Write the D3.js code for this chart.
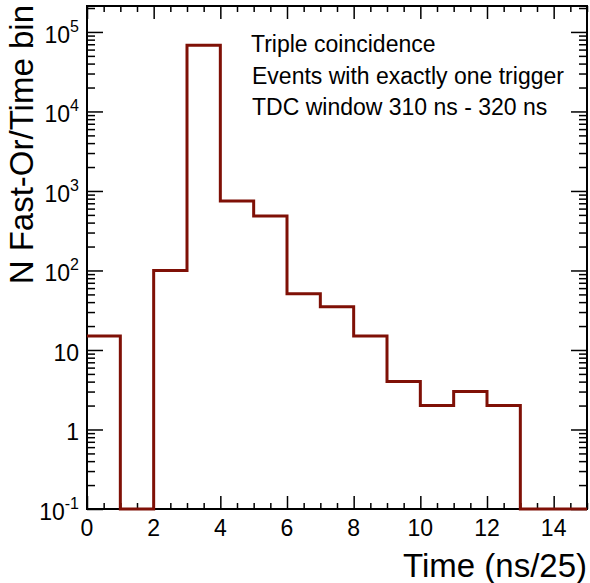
<!DOCTYPE html>
<html>
<head>
<meta charset="utf-8">
<script src="https://cdn.jsdelivr.net/npm/d3@7"></script>
<style>
body { margin: 0; background: #fff; }
text { font-family: "Liberation Sans", Arial, Helvetica, sans-serif; fill: #000; }
</style>
</head>
<body>
<div class="chart"></div>
<script>
// ビンの下端 (Time, ns/25) と中身
var binLow = [0, 1, 2, 3, 4, 5, 6, 7, 8, 9, 10, 11, 12, 13, 14];
var binCounts = [15, 0, 100, 68000, 750, 485, 51, 35, 15, 4, 2, 3, 2, 0, 0];
var binHigh = 15;

// 目盛り
var xTicks = [0, 2, 4, 6, 8, 10, 12, 14];
var yTicks = [0.1, 1, 10, 100, 1000, 10000, 100000];
var yTickBase = ["10", "1", "10", "10", "10", "10", "10"];
var yTickExp = ["-1", "", "", "2", "3", "4", "5"];

var notes = ["Triple coincidence", "Events with exactly one trigger", "TDC window 310 ns - 320 ns"];

var margin = {top: 6, right: 3, bottom: 74, left: 87},
    area = {width: 590 - margin.left - margin.right, height: 583 - margin.top - margin.bottom};

var yMin = 0.1, yMax = 2.12e5;

var x = d3.scaleLinear().domain([0, binHigh]).range([0, area.width]);
var y = d3.scaleLog().domain([yMin, yMax]).range([area.height, 0]);

var svg = d3.select("div.chart")
    .append("svg")
    .attr("width", 590)
    .attr("height", 583)
    .append("g")
    .attr("transform", "translate(" + margin.left + "," + margin.top + ")");

// 副目盛り
var xMinor = d3.range(0, binHigh + 0.01, 0.5).filter(function(d) { return xTicks.indexOf(d) < 0; });
var yMinor = y.ticks().filter(function(d) { return yTicks.indexOf(d) < 0; });

function tickAxis(axis, values, size) {
    return axis.tickValues(values).tickSizeInner(size).tickSizeOuter(0).tickFormat("");
}

var axes = [
    {a: tickAxis(d3.axisBottom(x), xTicks, -13), t: "translate(0," + area.height + ")"},
    {a: tickAxis(d3.axisBottom(x), xMinor, -6), t: "translate(0," + area.height + ")"},
    {a: tickAxis(d3.axisTop(x), xTicks, -13), t: "translate(0,0)"},
    {a: tickAxis(d3.axisTop(x), xMinor, -6), t: "translate(0,0)"},
    {a: tickAxis(d3.axisLeft(y), yTicks, -16), t: "translate(0,0)"},
    {a: tickAxis(d3.axisLeft(y), yMinor, -8), t: "translate(0,0)"},
    {a: tickAxis(d3.axisRight(y), yTicks, -16), t: "translate(" + area.width + ",0)"},
    {a: tickAxis(d3.axisRight(y), yMinor, -8), t: "translate(" + area.width + ",0)"}
];
axes.forEach(function(ax) {
    var g = svg.append("g").attr("transform", ax.t).call(ax.a);
    g.select(".domain").remove();
    g.selectAll("line").attr("stroke", "#000").attr("stroke-width", 1.5);
});

// 枠
svg.append("rect")
    .attr("width", area.width)
    .attr("height", area.height)
    .attr("fill", "none")
    .attr("stroke", "#000")
    .attr("stroke-width", 2);

// X軸ラベル
svg.selectAll(".xlab")
    .data(xTicks)
    .enter()
    .append("text")
    .attr("class", "xlab")
    .attr("x", function(d) { return x(d); })
    .attr("y", area.height + 27)
    .attr("text-anchor", "middle")
    .style("font-size", "23px")
    .text(function(d) { return d; });

// Y軸ラベル (10^n)
var ylab = svg.selectAll(".ylab")
    .data(yTicks)
    .enter()
    .append("text")
    .attr("class", "ylab")
    .attr("x", -8)
    .attr("y", function(d) { return y(d) + 11; })
    .attr("text-anchor", "end")
    .style("font-size", "23px");
ylab.append("tspan")
    .text(function(d, i) { return yTickBase[i]; });
ylab.append("tspan")
    .attr("dy", -11)
    .style("font-size", "16px")
    .text(function(d, i) { return yTickExp[i]; });

// 軸タイトル
svg.append("text")
    .attr("x", area.width)
    .attr("y", 571)
    .attr("text-anchor", "end")
    .style("font-size", "33px")
    .text("Time (ns/25)");

svg.append("text")
    .attr("transform", "translate(" + (33 - margin.left) + "," + (-1) + ") rotate(-90)")
    .attr("text-anchor", "end")
    .style("font-size", "33px")
    .text("N Fast-Or/Time bin");

// ヒストグラム
var pts = binLow.map(function(d, i) { return {t: d, v: binCounts[i]}; });
pts.push({t: binHigh, v: binCounts[binCounts.length - 1]});

var line = d3.line()
    .x(function(d) { return x(d.t); })
    .y(function(d) { return y(Math.max(d.v, yMin)); })
    .curve(d3.curveStepAfter);

svg.append("path")
    .datum(pts)
    .attr("d", line)
    .attr("fill", "none")
    .attr("stroke", "#7f1006")
    .attr("stroke-width", 3);

// 注記
svg.selectAll(".note")
    .data(notes)
    .enter()
    .append("text")
    .attr("class", "note")
    .attr("x", function(d, i) { return (i === 0 ? 251 : 252) - margin.left; })
    .attr("y", function(d, i) { return 52 + i * 31.5 - margin.top; })
    .style("font-size", "23px")
    .text(function(d) { return d; });
</script>
</body>
</html>
